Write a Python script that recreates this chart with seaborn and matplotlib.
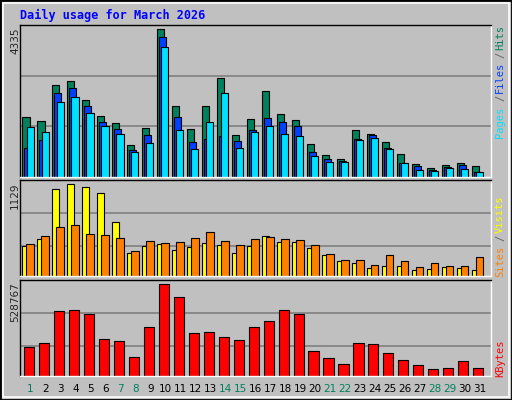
import matplotlib
matplotlib.use("Agg")
import matplotlib.pyplot as plt
import seaborn as sns
import numpy as np
import pandas as pd
from matplotlib.patches import Rectangle

days = list(range(1, 32))
hits = [1772,1656,2696,2812,2263,1801,1599,934,1425,4335,2090,1396,2090,2899,1223,1714,2523,1859,1685,963,645,530,1367,1252,1021,674,385,270,356,414,327]
files = [847,1079,2465,2610,2090,1627,1396,790,1223,4112,1772,1021,1107,1194,1050,1367,1743,1627,1483,732,530,472,1107,1223,847,414,327,212,299,356,154]
pages = [1454,1310,2205,2350,1887,1483,1252,732,992,3823,1367,819,1627,2465,847,1310,1483,1252,1194,616,443,443,1079,1136,819,414,212,183,270,241,154]
visits = [368,454,1067,1129,1092,1018,663,282,368,393,319,356,405,380,282,368,491,417,417,344,258,184,160,98,123,123,74,86,110,98,74]
sites = [393,491,601,626,515,503,466,307,429,405,417,466,540,429,380,454,479,454,442,380,270,196,196,135,258,184,110,160,123,123,233]
kbytes = [162708,185952,371904,377715,354471,209196,197574,104598,278928,528767,453258,244062,249873,220818,203385,278928,313794,377715,354471,139464,98787,63921,185952,180141,127842,87165,58110,34866,40677,81354,40677]
weekend = [1,7,8,14,15,21,22,28,29]
title = "Daily usage for March 2026"

sns.set_theme(style="white")
plt.rcParams['font.family'] = ['DejaVu Sans Mono', 'DejaVu Sans']
BG = "#C0C0C0"
fig = plt.figure(figsize=(5.12, 4.0), dpi=100, facecolor=BG)
fig.patches.append(Rectangle((0, 0), 1, 1, transform=fig.transFigure, fill=False, edgecolor="black", lw=2))
fig.patches.append(Rectangle((0.006, 0.008), 0.988, 0.984, transform=fig.transFigure, fill=False, edgecolor="white", lw=1.2))

L, W = 20/512, 470.7/512
def mkax(top, bot):
    ax = fig.add_axes([L, 1-bot/400, W, (bot-top)/400])
    ax.set_facecolor(BG)
    for s in ax.spines.values():
        s.set_color("black"); s.set_linewidth(1)
    ax.spines['right'].set_color("white"); ax.spines['bottom'].set_color("white")
    return ax

d = np.array(days, dtype=float)
def bars(ax, off, vals, color, width):
    df = pd.DataFrame({"x": d + off, "y": vals})
    sns.barplot(data=df, x="x", y="y", native_scale=True, width=width, color=color,
                edgecolor="black", linewidth=0.8, saturation=1, ax=ax)

ax1 = mkax(25, 177)
ylim1 = 4335*152/147.7
for g in (ylim1/3, 2*ylim1/3):
    ax1.axhline(g, color="#808080", lw=1.2, zorder=0)
bars(ax1, -0.30, hits, "#00805C", 0.47)
bars(ax1, -0.19, files, "#0040FF", 0.47)
bars(ax1, -0.03, pages, "#00E0FF", 0.47)
ax1.set_ylim(0, ylim1)

ax2 = mkax(180, 276)
for g in (368, 773):
    ax2.axhline(g, color="#808080", lw=1.2, zorder=0)
bars(ax2, -0.30, visits, "#FFFF00", 0.47)
bars(ax2, -0.03, sites, "#FF8000", 0.49)
ax2.set_ylim(0, 1129*96/92)

ax3 = mkax(280, 375.5)
for g in (168500, 360300):
    ax3.axhline(g, color="#808080", lw=1.2, zorder=0)
bars(ax3, -0.12, kbytes, "#FF0000", 0.67)
ax3.set_ylim(0, 528767*95/91)

for a in (ax1, ax2, ax3):
    a.set_xlim(0.3, 31.7); a.set_xticks([]); a.set_yticks([]); a.set_xlabel(""); a.set_ylabel("")

fig.text(20/512, 1-15/400, title, color="#0000FF", fontsize=8.5, fontweight="bold", va="center")
for y, s in ((27, "4335"), (182, "1129"), (282, "528767")):
    fig.text(15/512, 1-y/400, s, rotation=90, fontsize=7.5, family="DejaVu Sans", va="top", ha="center")

for dd in days:
    xf = L + W*((dd - 0.3)/31.4)
    fig.text(xf, 1-389/400, str(dd), ha="center", va="center", fontsize=7.5, family="DejaVu Sans",
             color="#00805C" if dd in weekend else "black")

def rlabels(items):
    for ybot, s, c in items:
        fig.text(500/512, 1-ybot/400, s, rotation=90, fontsize=7.5, color=c, ha="center", va="bottom")
rlabels([(138, "Pages", "#00E0FF"), (101, "/", "#606060"), (93, "Files", "#0040FF"),
         (58, "/", "#606060"), (50, "Hits", "#00805C")])
rlabels([(277, "Sites", "#FF8000"), (241, "/", "#606060"), (233, "Visits", "#FFFF00")])
rlabels([(377, "KBytes", "#FF0000")])

fig.savefig("out.png", dpi=100, facecolor=BG)
